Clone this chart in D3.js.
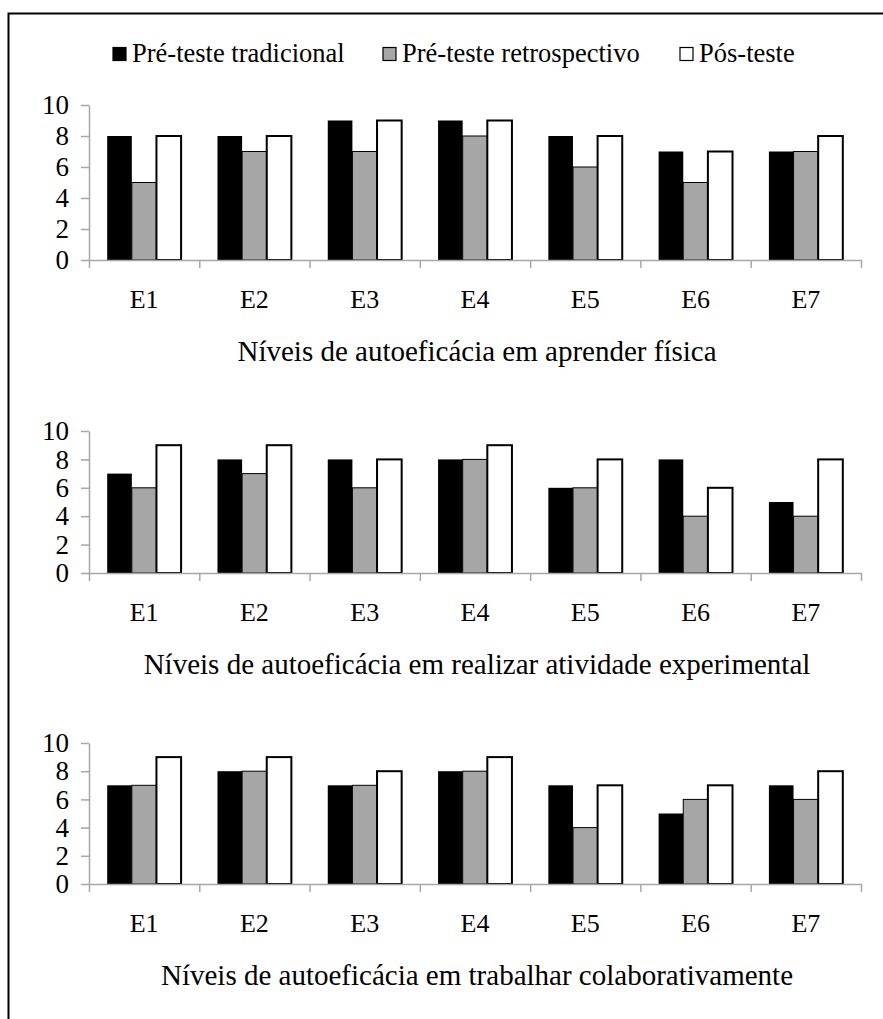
<!DOCTYPE html>
<html>
<head>
<meta charset="utf-8">
<script src="https://cdn.jsdelivr.net/npm/d3@7"></script>
<style>
  body { margin: 0; background: #fff; }
</style>
</head>
<body>
<div id="chart"></div>
<script>
// categorias e séries
const categories = ["E1", "E2", "E3", "E4", "E5", "E6", "E7"];
const seriesNames = ["Pré-teste tradicional", "Pré-teste retrospectivo", "Pós-teste"];
const yTicks = [0, 2, 4, 6, 8, 10];

// aprender física
const fisicaTradicional = [8, 8, 9, 9, 8, 7, 7];
const fisicaRetro = [5, 7, 7, 8, 6, 5, 7];
const fisicaPos = [8, 8, 9, 9, 8, 7, 8];

// realizar atividade experimental
const experTradicional = [7, 8, 8, 8, 6, 8, 5];
const experRetro = [6, 7, 6, 8, 6, 4, 4];
const experPos = [9, 9, 8, 9, 8, 6, 8];

// trabalhar colaborativamente
const colabTradicional = [7, 8, 7, 8, 7, 5, 7];
const colabRetro = [7, 8, 7, 8, 4, 6, 6];
const colabPos = [9, 9, 8, 9, 7, 7, 8];

const titles = [
    "Níveis de autoeficácia em aprender física",
    "Níveis de autoeficácia em realizar atividade experimental",
    "Níveis de autoeficácia em trabalhar colaborativamente"
];

const panelValues = [
    [fisicaTradicional, fisicaRetro, fisicaPos],
    [experTradicional, experRetro, experPos],
    [colabTradicional, colabRetro, colabPos]
];

const W = 883, H = 1019;
const FONT = "'Liberation Serif', 'Times New Roman', serif";
const fills = ["#000000", "#a6a6a6", "#ffffff"];
const axisColor = "#a6a6a6";
const left = 89, right = 861;

// posição vertical de cada painel: topo (10), base (0)
const panelLayout = [
    { top: 105, bottom: 260 },
    { top: 431, bottom: 573 },
    { top: 743, bottom: 884 }
];

const svg = d3.select("#chart").append("svg")
    .attr("width", W)
    .attr("height", H);

// moldura (cortada à direita e embaixo)
svg.append("rect")
    .attr("x", 8.5)
    .attr("y", 13.5)
    .attr("width", W + 20)
    .attr("height", H + 20)
    .attr("fill", "none")
    .attr("stroke", "#000")
    .attr("stroke-width", 2);

// legenda
const legendX = [113, 383, 680];
const legend = svg.append("g").attr("class", "legend");
seriesNames.forEach((name, i) => {
    legend.append("rect")
        .attr("x", legendX[i])
        .attr("y", 47.5)
        .attr("width", 13)
        .attr("height", 13)
        .attr("fill", fills[i])
        .attr("stroke", "#000")
        .attr("stroke-width", 1.2);
    legend.append("text")
        .attr("x", legendX[i] + 19)
        .attr("y", 62)
        .style("font-family", FONT)
        .style("font-size", "26.5px")
        .attr("fill", "#000")
        .text(name);
});

const x0 = d3.scaleBand()
    .domain(categories)
    .range([left, right])
    .paddingInner(0.33)
    .paddingOuter(0.165);

const x1 = d3.scaleBand()
    .domain(d3.range(seriesNames.length))
    .range([0, x0.bandwidth()]);

const xEdges = d3.scaleLinear()
    .domain([0, categories.length])
    .range([left, right]);

panelValues.forEach((values, p) => {
    const lay = panelLayout[p];
    const y = d3.scaleLinear().domain([0, 10]).range([lay.bottom, lay.top]);
    const g = svg.append("g").attr("class", "panel");

    // barras
    values.forEach((vals, s) => {
        g.append("g")
            .selectAll("rect")
            .data(vals)
            .enter()
            .append("rect")
            .attr("x", (d, i) => x0(categories[i]) + x1(s))
            .attr("y", d => y(d))
            .attr("width", x1.bandwidth())
            .attr("height", d => y(0) - y(d))
            .attr("fill", fills[s])
            .attr("stroke", "#000")
            .attr("stroke-width", s === 0 ? 0 : (s === 1 ? 1 : 2));
    });

    // eixo Y
    const yAxis = g.append("g")
        .attr("transform", `translate(${left},0)`)
        .call(d3.axisLeft(y).tickValues(yTicks).tickSize(8).tickPadding(12).tickSizeOuter(0));
    yAxis.select(".domain").attr("stroke", axisColor).attr("stroke-width", 1.5);
    yAxis.selectAll(".tick line").attr("stroke", axisColor).attr("stroke-width", 1.5);
    yAxis.selectAll(".tick text")
        .style("font-size", "27px")
        .style("font-family", FONT)
        .attr("fill", "#000");

    // eixo X: marcas nas divisões
    const xAxis = g.append("g")
        .attr("transform", `translate(0,${lay.bottom})`)
        .call(d3.axisBottom(xEdges).ticks(categories.length).tickSize(8).tickFormat("").tickSizeOuter(0));
    xAxis.select(".domain").attr("stroke", axisColor).attr("stroke-width", 1.5);
    xAxis.selectAll(".tick line").attr("stroke", axisColor).attr("stroke-width", 1.5);

    // rótulos das categorias
    const xLabels = g.append("g")
        .attr("transform", `translate(0,${lay.bottom})`)
        .call(d3.axisBottom(x0).tickSize(0).tickPadding(30));
    xLabels.select(".domain").remove();
    xLabels.selectAll(".tick text")
        .style("font-size", "26px")
        .style("font-family", FONT)
        .attr("fill", "#000");

    // título
    g.append("text")
        .attr("x", 477)
        .attr("y", lay.bottom + 101)
        .attr("text-anchor", "middle")
        .style("font-family", FONT)
        .style("font-size", "29px")
        .attr("fill", "#000")
        .text(titles[p]);
});
</script>
</body>
</html>
